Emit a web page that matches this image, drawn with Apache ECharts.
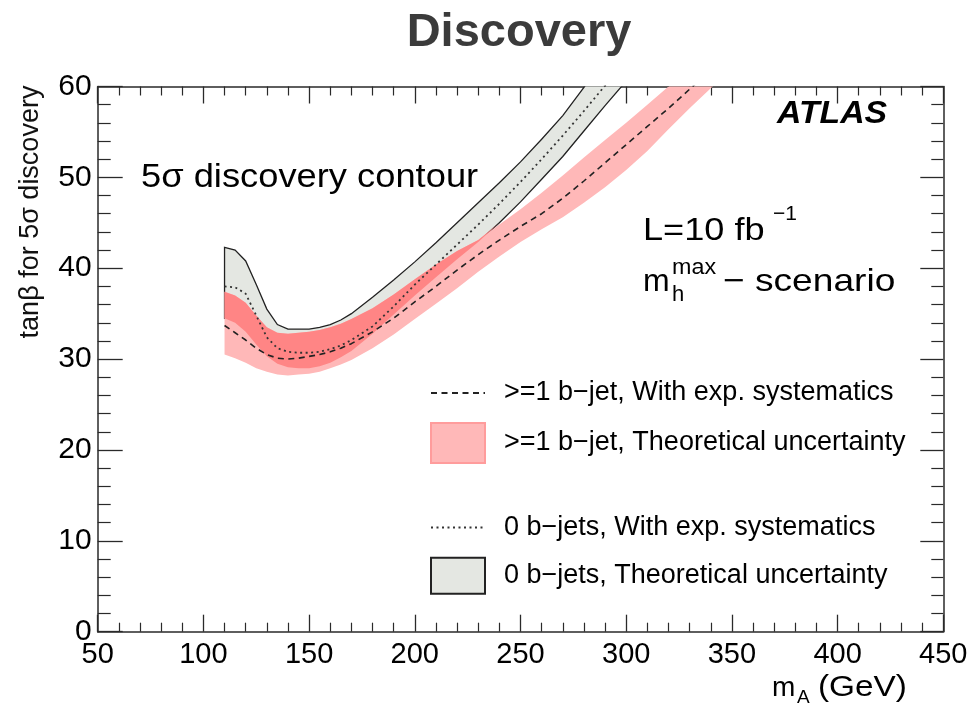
<!DOCTYPE html>
<html>
<head>
<meta charset="utf-8">
<script src="https://cdn.jsdelivr.net/npm/echarts@6/dist/echarts.min.js"></script>
<style>
  html, body { margin: 0; padding: 0; background: #fff; }
  #chart { width: 976px; height: 709px; }
</style>
</head>
<body>
<div id="chart"></div>
<script>
// Pseudoscalar mass grid (GeV)
const mA = [110, 115, 120, 125, 130, 135, 140, 145, 150, 155, 160, 165, 170, 180, 190, 200,
            210, 220, 230, 240, 250, 260, 270, 280, 290, 300, 310, 320, 330, 340, 350];

// 0 b-jets: theoretical uncertainty band (low / high) and central curve with exp. systematics
const noBLow  = [34.5, 34.0, 33.0, 31.6, 30.3, 29.5, 29.1, 29.0, 29.0, 29.2, 29.6, 30.2, 30.9, 32.8, 34.9, 37.0,
                 39.0, 41.0, 42.9, 45.0, 47.3, 49.8, 52.3, 55.1, 57.9, 60.6, null, null, null, null, null];
const noBHigh = [42.3, 42.0, 40.8, 38.2, 35.5, 33.8, 33.3, 33.3, 33.3, 33.5, 33.8, 34.3, 35.0, 36.8, 38.7, 40.7,
                 42.8, 45.0, 47.2, 49.4, 51.7, 54.2, 56.8, 59.9, 63.0, null, null, null, null, null, null];
const noBExp  = [38.0, 37.9, 37.2, 34.8, 32.4, 31.2, 30.8, 30.7, 30.7, 30.8, 31.1, 31.5, 32.1, 33.6, 35.8, 38.2,
                 40.4, 42.6, 44.8, 47.1, 49.5, 52.0, 54.6, 57.3, 60.1, 63.0, null, null, null, null, null];

// >=1 b-jet: theoretical uncertainty band (low / high) and central curve with exp. systematics
const bJetLow  = [30.5, 30.1, 29.6, 29.0, 28.6, 28.3, 28.2, 28.3, 28.4, 28.6, 29.0, 29.4, 29.9, 31.2, 32.7, 34.4,
                  36.1, 37.8, 39.6, 41.3, 42.9, 44.3, 45.6, 47.2, 48.9, 50.8, 52.9, 55.3, 57.6, 59.8, 62.0];
const bJetHigh = [37.4, 37.0, 36.2, 34.8, 33.5, 32.9, 32.8, 32.9, 33.0, 33.2, 33.5, 33.9, 34.4, 35.6, 37.1, 38.8,
                  40.4, 41.9, 43.1, 44.8, 46.5, 48.3, 50.2, 52.2, 54.1, 56.0, 58.0, 60.0, 62.0, null, null];
const bJetExp  = [33.7, 32.9, 32.1, 31.2, 30.5, 30.1, 30.0, 30.1, 30.3, 30.5, 30.8, 31.2, 31.7, 33.0, 34.5, 36.3,
                  38.0, 39.8, 41.5, 43.1, 44.6, 46.0, 47.7, 49.6, 51.6, 53.6, 55.6, 57.6, 59.7, 61.8, null];

// Axis tick values
const xTicks = [50, 100, 150, 200, 250, 300, 350, 400, 450];
const yTicks = [0, 10, 20, 30, 40, 50, 60];

const NAME_B_EXP = '>=1 b\u2212jet, With exp. systematics';
const NAME_B_TH  = '>=1 b\u2212jet, Theoretical uncertainty';
const NAME_0_EXP = '0 b\u2212jets, With exp. systematics';
const NAME_0_TH  = '0 b\u2212jets, Theoretical uncertainty';

const FONT = '"Liberation Sans", Arial, Helvetica, sans-serif';
const FRAME = '#2a2a2a';

const C_GRAY = '#e4e7e2';
const C_PINK = '#ffb8b8';
const C_RED  = '#ff8585';

// Region where both uncertainty bands overlap
const overlapLow = mA.map((_, i) => (noBLow[i] == null || bJetLow[i] == null) ? null : Math.max(noBLow[i], bJetLow[i]));
const overlapHigh = mA.map((_, i) => {
  if (overlapLow[i] == null || noBHigh[i] == null || bJetHigh[i] == null) return null;
  return Math.max(overlapLow[i], Math.min(noBHigh[i], bJetHigh[i]));
});
const overlapLowTrim = overlapLow.map((v, i) => overlapHigh[i] == null ? null : v);

function bandRenderer(low, high, style) {
  return function (params, api) {
    const pts = [];
    for (let i = 0; i < mA.length; i++) {
      if (high[i] != null) pts.push(api.coord([mA[i], high[i]]));
    }
    for (let i = mA.length - 1; i >= 0; i--) {
      if (low[i] != null) pts.push(api.coord([mA[i], low[i]]));
    }
    return { type: 'polygon', shape: { points: pts }, style: style };
  };
}

function pairs(arr) {
  const out = [];
  for (let i = 0; i < mA.length; i++) if (arr[i] != null) out.push([mA[i], arr[i]]);
  return out;
}

function label(text, x, y, size, extra) {
  return Object.assign({
    type: 'text', x: x, y: y,
    style: Object.assign({ text: text, fontSize: size, fontFamily: FONT, fill: '#000', align: 'left', verticalAlign: 'middle' },
                         (extra && extra.style) || {})
  }, extra && extra.el ? extra.el : {});
}

const chart = echarts.init(document.getElementById('chart'), null, { renderer: 'canvas' });

const tickCommon = { inside: true, lineStyle: { color: FRAME, width: 1.3 } };
const minorStyle = { color: FRAME, width: 1.2 };
const legendText = { fontSize: 27, color: '#000', fontFamily: FONT, padding: [0, 0, 0, 14] };

const option = {
  backgroundColor: '#ffffff',
  animation: false,
  grid: { left: 97.7, right: 32.7, top: 86.5, bottom: 77.3, containLabel: false },
  xAxis: [
    {
      type: 'value', min: xTicks[0], max: xTicks[xTicks.length - 1], interval: 50, position: 'bottom',
      axisLine: { show: true, onZero: false, lineStyle: { color: FRAME, width: 1.5 } },
      axisTick: Object.assign({ length: 17 }, tickCommon),
      minorTick: { show: true, splitNumber: 5, length: 9, lineStyle: minorStyle },
      axisLabel: { fontSize: 29, color: '#000', fontFamily: FONT, margin: 9 },
      splitLine: { show: false }, minorSplitLine: { show: false }
    },
    {
      type: 'value', min: xTicks[0], max: xTicks[xTicks.length - 1], interval: 50, position: 'top',
      axisLine: { show: true, onZero: false, lineStyle: { color: FRAME, width: 1.5 } },
      axisTick: Object.assign({ length: 17 }, tickCommon),
      minorTick: { show: true, splitNumber: 5, length: 9, lineStyle: minorStyle },
      axisLabel: { show: false }, splitLine: { show: false }
    }
  ],
  yAxis: [
    {
      type: 'value', min: yTicks[0], max: yTicks[yTicks.length - 1], interval: 10, position: 'left',
      axisLine: { show: true, onZero: false, lineStyle: { color: FRAME, width: 1.5 } },
      axisTick: Object.assign({ length: 25 }, tickCommon),
      minorTick: { show: true, splitNumber: 5, length: 13, lineStyle: minorStyle },
      axisLabel: { fontSize: 30, color: '#000', fontFamily: FONT, margin: 6 },
      splitLine: { show: false }, minorSplitLine: { show: false }
    },
    {
      type: 'value', min: yTicks[0], max: yTicks[yTicks.length - 1], interval: 10, position: 'right',
      axisLine: { show: true, onZero: false, lineStyle: { color: FRAME, width: 1.5 } },
      axisTick: Object.assign({ length: 23 }, tickCommon),
      minorTick: { show: true, splitNumber: 5, length: 12, lineStyle: minorStyle },
      axisLabel: { show: false }, splitLine: { show: false }
    }
  ],
  legend: [
    {
      orient: 'vertical', left: 430, top: 377, padding: 0, itemGap: 13,
      itemWidth: 54, itemHeight: 40, selectedMode: false,
      textStyle: legendText,
      data: [
        { name: NAME_B_EXP, itemStyle: { opacity: 0 } },
        { name: NAME_B_TH, icon: 'rect' }
      ]
    },
    {
      orient: 'vertical', left: 430, top: 513, padding: 0, itemGap: 15,
      itemWidth: 54, itemHeight: 36, selectedMode: false,
      textStyle: legendText,
      data: [
        { name: NAME_0_EXP, itemStyle: { opacity: 0 } },
        { name: NAME_0_TH, icon: 'rect' }
      ]
    }
  ],
  series: [
    {
      name: NAME_0_TH, type: 'custom', clip: true, z: 1,
      itemStyle: { color: C_GRAY, borderColor: '#222', borderWidth: 1.3 },
      data: [[mA[0], noBLow[0]]],
      renderItem: bandRenderer(noBLow, noBHigh, { fill: C_GRAY, stroke: '#222', lineWidth: 1.3 })
    },
    {
      name: NAME_B_TH, type: 'custom', clip: true, z: 2,
      itemStyle: { color: C_PINK, borderColor: '#ff9c9c', borderWidth: 1 },
      data: [[mA[0], bJetLow[0]]],
      renderItem: bandRenderer(bJetLow, bJetHigh, { fill: C_PINK })
    },
    {
      name: 'overlap', type: 'custom', clip: true, z: 3,
      itemStyle: { color: C_RED },
      data: [[mA[0], overlapLowTrim[0]]],
      renderItem: bandRenderer(overlapLowTrim, overlapHigh, { fill: C_RED })
    },
    {
      name: NAME_0_EXP, type: 'line', z: 4, symbol: 'none', clip: true,
      lineStyle: { color: '#333', width: 1.8, type: [2, 3.5] },
      itemStyle: { color: '#333' },
      data: pairs(noBExp)
    },
    {
      name: NAME_B_EXP, type: 'line', z: 4, symbol: 'none', clip: true,
      lineStyle: { color: '#222', width: 1.6, type: [6, 4.5] },
      itemStyle: { color: '#222' },
      data: pairs(bJetExp)
    }
  ],
  graphic: [
    label('Discovery', 519, 33, 47, { style: { fontWeight: 'bold', fill: '#3b3b3b', align: 'center' } }),
    label('tan\u03b2 for 5\u03c3 discovery', 31, 212, 27, { style: { fill: '#111', align: 'center' }, el: { rotation: Math.PI / 2 } }),
    label('5\u03c3 discovery contour', 141, 178, 33, { el: { scaleX: 1.1 } }),
    label('ATLAS', 777, 114, 31, { style: { fontWeight: 'bold', fontStyle: 'italic' }, el: { scaleX: 1.09 } }),
    label('L=10 fb', 643, 231, 32, { el: { scaleX: 1.13 } }),
    label('\u22121', 773, 214, 21),
    label('m', 643, 282, 32),
    label('max', 672, 268, 22, { el: { scaleX: 1.06 } }),
    label('h', 672, 295, 22),
    label('\u2212 scenario', 723, 282, 32, { el: { scaleX: 1.16 } }),
    label('m', 772, 688, 28),
    label('A', 797, 698, 19),
    label('(GeV)', 818, 688, 29, { el: { scaleX: 1.15 } })
  ]
};

chart.setOption(option);
</script>
</body>
</html>
